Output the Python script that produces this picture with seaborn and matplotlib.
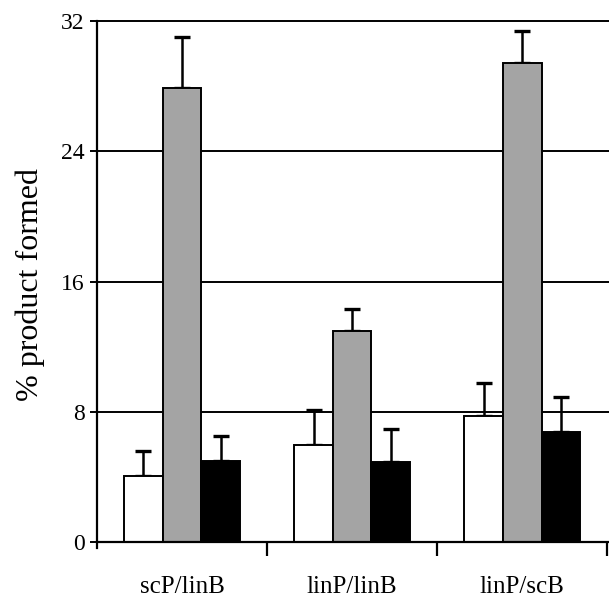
import numpy as np
import pandas as pd
import matplotlib
matplotlib.use("Agg")
import matplotlib.pyplot as plt
import seaborn as sns

# ---- data ----
categories = ["scP/linB", "linP/linB", "linP/scB"]
series = ["white", "grey", "black"]
white_vals = [4.1, 5.95, 7.75]
grey_vals = [27.9, 12.95, 29.4]
black_vals = [5.0, 4.95, 6.8]
white_err = [1.5, 2.15, 2.0]
grey_err = [3.1, 1.4, 2.0]
black_err = [1.5, 2.0, 2.1]
yticks = [0, 8, 16, 24, 32]

colors = {"white": "#ffffff", "grey": "#a4a4a4", "black": "#000000"}

df = pd.DataFrame({
    "category": categories * 3,
    "series": [s for s in series for _ in categories],
    "value": white_vals + grey_vals + black_vals,
    "err": white_err + grey_err + black_err,
})

sns.set_theme(style="white")
plt.rcParams["font.family"] = ["Liberation Serif", "DejaVu Serif"]

fig = plt.figure(figsize=(6.09, 5.99), dpi=100)
ax = fig.add_axes([97 / 609, 1 - 548 / 599, 1 - 97 / 609, (548 - 21) / 599])

# grid lines behind bars
for yv in yticks[1:]:
    ax.axhline(yv, color="black", lw=1.4, zorder=0, clip_on=False)

sns.barplot(data=df, x="category", y="value", hue="series",
            order=categories, hue_order=series,
            palette=colors, width=0.68, errorbar=None, legend=False,
            edgecolor="black", linewidth=1.4, saturation=1, ax=ax, zorder=2)

# error bars (upper only) placed at each bar's center
for container, s in zip(ax.containers, series):
    sub = df[df["series"] == s].set_index("category").loc[categories]
    xs = [p.get_x() + p.get_width() / 2 for p in container.patches]
    hs = [p.get_height() for p in container.patches]
    ax.errorbar(xs, hs, yerr=[np.zeros(len(xs)), sub["err"].values],
                fmt="none", ecolor="black", elinewidth=1.8,
                capsize=5.5, capthick=2.4, zorder=1)

ax.set_xlim(-0.5, 2.51)
ax.set_ylim(-0.35, 32)
ax.set_yticks(yticks)
ax.set_yticklabels([str(v) for v in yticks], fontsize=17)
ax.spines["bottom"].set_position(("data", 0))
ax.spines["top"].set_visible(False)
ax.spines["right"].set_visible(False)
for sp in ["left", "bottom"]:
    ax.spines[sp].set_color("black")
    ax.spines[sp].set_linewidth(1.6)

ax.tick_params(axis="y", which="major", direction="out", length=5, width=1.4,
               color="black", left=True, pad=4, labelcolor="black")
ax.set_xticks(range(len(categories)))
ax.set_xticklabels(categories, fontsize=18)
ax.tick_params(axis="x", which="major", length=0, pad=24, labelcolor="black")
ax.set_xticks([0.5, 1.5, 2.5], minor=True)
ax.tick_params(axis="x", which="minor", direction="out", length=10, width=1.6,
               color="black", bottom=True)

ax.set_xlabel("")
ax.set_ylabel("% product formed", fontsize=23, color="black")
ax.yaxis.set_label_coords(-0.102, 0.5)
ax.grid(False)

fig.savefig("out.png", dpi=100)
